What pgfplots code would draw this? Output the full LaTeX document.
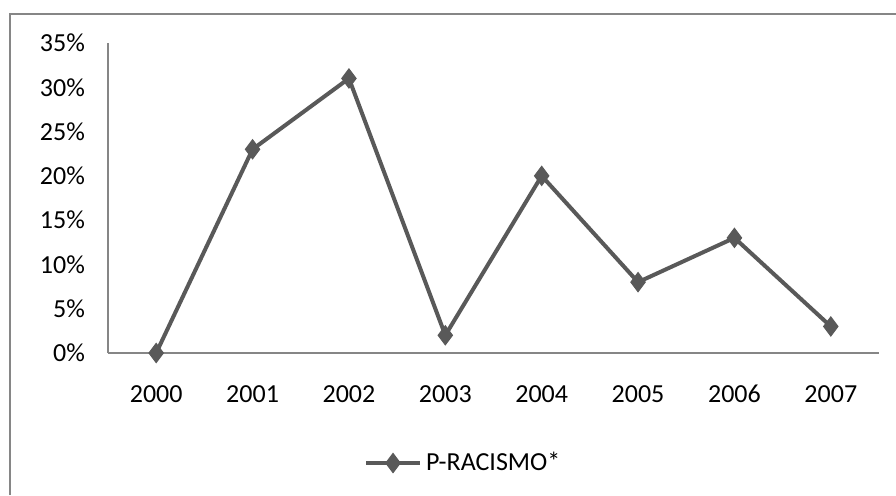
\documentclass[border=0pt]{standalone}
\usepackage{pgfplots}
\pgfplotsset{compat=1.18}
\usepackage{fontspec}
\setmainfont{Carlito}
\definecolor{linegray}{HTML}{595959}
\definecolor{axgray}{HTML}{868686}
\begin{document}
\begin{tikzpicture}
\useasboundingbox (0,0) rectangle (448pt,247.5pt);
\draw[axgray, line width=0.8pt] (5pt,0) -- (5pt,240.5pt) -- (448pt,240.5pt);
\begin{axis}[
  at={(54pt,71pt)}, anchor=south west,
  scale only axis, width=385.5pt, height=155pt,
  xmin=-0.5, xmax=7.5, ymin=0, ymax=35,
  axis lines=left, axis line style={axgray, line width=0.7pt, -},
  xtick={0,...,7},
  xticklabels={2000,2001,2002,2003,2004,2005,2006,2007},
  ytick={0,5,...,35},
  yticklabel={\pgfmathprintnumber{\tick}\%},
  major tick length=0pt,
  /pgf/number format/assume math mode=true,
  tick label style={font=\fontsize{13}{15}\selectfont, text=black},
  yticklabel style={xshift=-8pt},
  xticklabel style={yshift=-12pt, text height=9pt, text depth=0pt},
  legend style={draw=none, at={(0.462,-0.355)}, anchor=center,
    font=\fontsize{13}{15}\selectfont},
  legend image code/.code={\draw[#1] (0pt,0pt) -- (27pt,0pt) plot coordinates {(13.5pt,0pt)};},
]
\addplot[color=linegray, line width=2pt, mark=diamond*, mark size=4.8pt,
  mark options={fill=linegray, line width=0.5pt}]
  coordinates {(0,0) (1,23) (2,31) (3,2) (4,20) (5,8) (6,13) (7,3)};
\addlegendentry{P-RACISMO*}
\end{axis}
\end{tikzpicture}
\end{document}
